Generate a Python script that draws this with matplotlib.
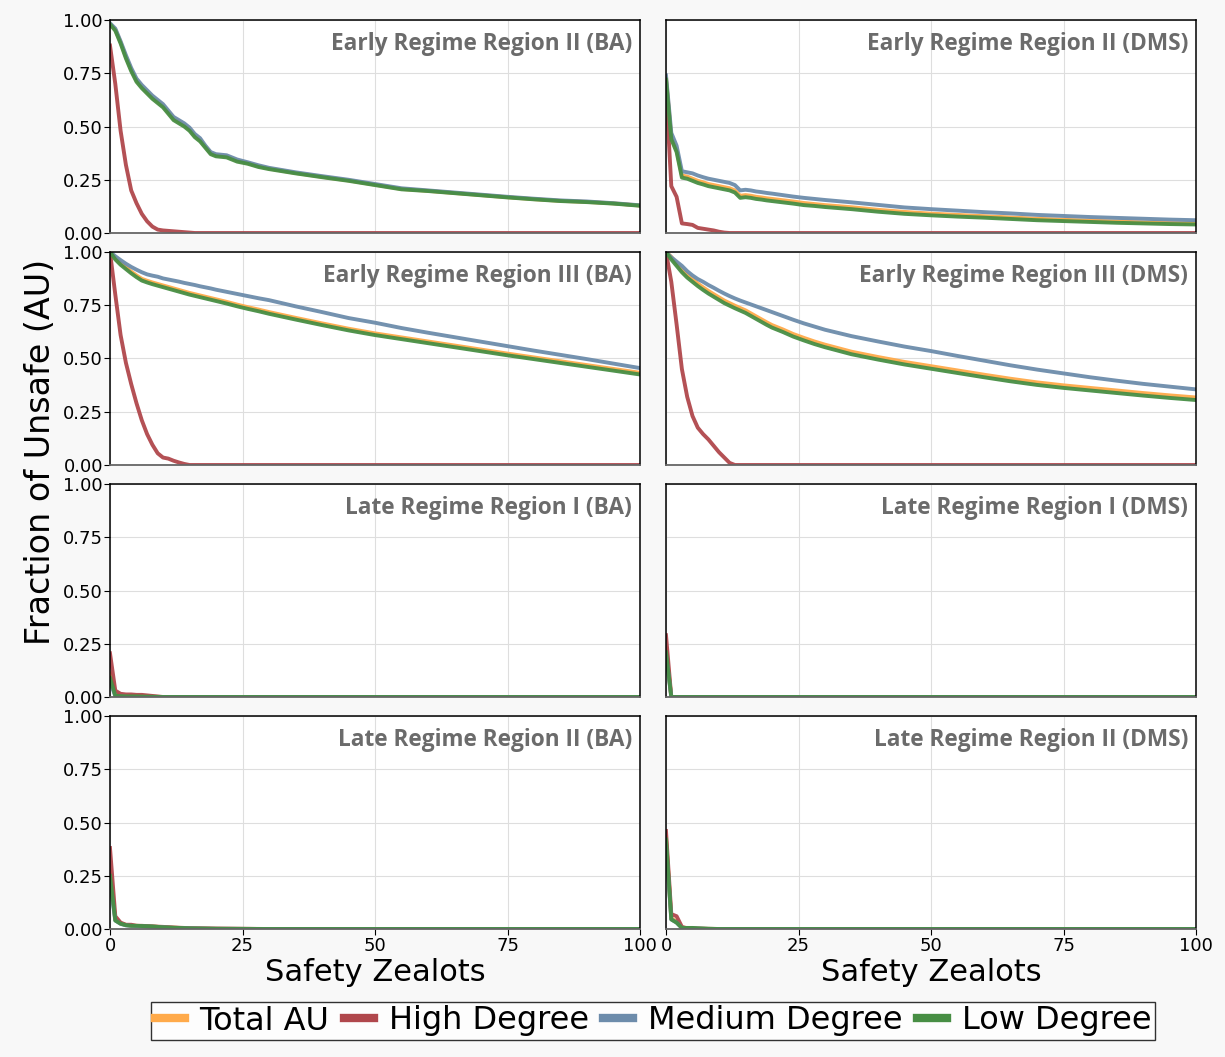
import matplotlib
matplotlib.use('Agg')
import matplotlib.pyplot as plt
from matplotlib.lines import Line2D

# common x grid (safety zealots) used for the early regime panels
X = [0, 1, 2, 3, 4, 5, 6, 7, 8, 9, 10, 11, 12, 13, 14, 15, 16, 17, 18, 19, 20,
     22, 24, 26, 28, 30, 35, 40, 45, 50, 55, 60, 65, 70, 75, 80, 85, 90, 95, 100]
# shorter grid for the late regime panels (all curves die out quickly)
XL = [0, 1, 2, 3, 4, 5, 6, 8, 10, 12, 15, 20, 30, 50, 100]

# Early Regime Region II (BA)
e2ba_total = [0.98, 0.955, 0.895, 0.827, 0.767, 0.717, 0.687, 0.661, 0.637, 0.617, 0.597, 0.567, 0.537,
              0.522, 0.507, 0.487, 0.457, 0.437, 0.405, 0.375, 0.365, 0.36, 0.34, 0.328, 0.314, 0.303,
              0.282, 0.264, 0.247, 0.227, 0.207, 0.198, 0.188, 0.178, 0.168, 0.159, 0.151, 0.146, 0.139, 0.129]
e2ba_high = [0.88, 0.70, 0.48, 0.32, 0.20, 0.14, 0.09, 0.055, 0.03, 0.016, 0.012, 0.01, 0.008, 0.006,
             0.004, 0.002, 0, 0, 0, 0, 0, 0, 0, 0, 0, 0, 0, 0, 0, 0, 0, 0, 0, 0, 0, 0, 0, 0, 0, 0]
e2ba_med = [0.985, 0.96, 0.90, 0.835, 0.775, 0.725, 0.695, 0.67, 0.645, 0.625, 0.605, 0.575, 0.545,
            0.53, 0.515, 0.495, 0.465, 0.445, 0.41, 0.38, 0.37, 0.365, 0.345, 0.332, 0.318, 0.306,
            0.285, 0.267, 0.25, 0.23, 0.21, 0.2, 0.19, 0.18, 0.17, 0.161, 0.153, 0.148, 0.14, 0.13]
e2ba_low = [0.98, 0.95, 0.89, 0.82, 0.76, 0.71, 0.68, 0.655, 0.63, 0.61, 0.59, 0.56, 0.53, 0.515, 0.50,
            0.48, 0.45, 0.43, 0.40, 0.37, 0.36, 0.355, 0.335, 0.325, 0.31, 0.30, 0.28, 0.262, 0.245,
            0.225, 0.205, 0.197, 0.187, 0.177, 0.167, 0.158, 0.150, 0.145, 0.138, 0.128]

# Early Regime Region II (DMS)
e2dms_total = [0.73, 0.45, 0.39, 0.27, 0.265, 0.255, 0.245, 0.238, 0.23, 0.225, 0.22, 0.215, 0.21, 0.20,
               0.175, 0.178, 0.175, 0.170, 0.167, 0.163, 0.160, 0.154, 0.148, 0.141, 0.136, 0.131, 0.121,
               0.109, 0.099, 0.091, 0.085, 0.079, 0.073, 0.067, 0.062, 0.058, 0.054, 0.050, 0.047, 0.045]
e2dms_high = [0.68, 0.22, 0.17, 0.045, 0.042, 0.038, 0.024, 0.02, 0.016, 0.012, 0.006, 0.002, 0, 0, 0, 0,
              0, 0, 0, 0, 0, 0, 0, 0, 0, 0, 0, 0, 0, 0, 0, 0, 0, 0, 0, 0, 0, 0, 0, 0]
e2dms_med = [0.74, 0.47, 0.41, 0.29, 0.285, 0.28, 0.27, 0.262, 0.255, 0.25, 0.245, 0.24, 0.235, 0.225,
             0.20, 0.203, 0.2, 0.195, 0.192, 0.188, 0.185, 0.178, 0.171, 0.165, 0.16, 0.155, 0.144,
             0.132, 0.12, 0.112, 0.105, 0.098, 0.092, 0.085, 0.08, 0.075, 0.071, 0.067, 0.063, 0.06]
e2dms_low = [0.72, 0.44, 0.38, 0.26, 0.255, 0.245, 0.235, 0.228, 0.22, 0.215, 0.21, 0.205, 0.20, 0.19,
             0.165, 0.168, 0.165, 0.160, 0.157, 0.153, 0.150, 0.144, 0.138, 0.131, 0.127, 0.122, 0.112,
             0.100, 0.090, 0.083, 0.077, 0.072, 0.066, 0.060, 0.056, 0.052, 0.048, 0.045, 0.042, 0.040]

# Early Regime Region III (BA)
e3ba_total = [1.0, 0.972, 0.948, 0.928, 0.908, 0.89, 0.874, 0.865, 0.857, 0.85, 0.843, 0.836, 0.829,
              0.822, 0.815, 0.808, 0.802, 0.796, 0.79, 0.784, 0.778, 0.766, 0.753, 0.741, 0.73, 0.718,
              0.691, 0.665, 0.64, 0.618, 0.599, 0.58, 0.561, 0.542, 0.523, 0.505, 0.487, 0.469, 0.451, 0.433]
e3ba_high = [1.0, 0.8, 0.61, 0.48, 0.38, 0.29, 0.21, 0.145, 0.095, 0.055, 0.035, 0.03, 0.02, 0.012, 0.005,
             0, 0, 0, 0, 0, 0, 0, 0, 0, 0, 0, 0, 0, 0, 0, 0, 0, 0, 0, 0, 0, 0, 0, 0, 0]
e3ba_med = [1.0, 0.98, 0.962, 0.945, 0.93, 0.917, 0.905, 0.895, 0.889, 0.884, 0.876, 0.871, 0.866, 0.861,
            0.855, 0.85, 0.845, 0.839, 0.834, 0.829, 0.823, 0.813, 0.803, 0.793, 0.783, 0.774, 0.745,
            0.718, 0.69, 0.668, 0.643, 0.621, 0.6, 0.579, 0.558, 0.537, 0.517, 0.497, 0.476, 0.455]
e3ba_low = [1.0, 0.965, 0.94, 0.92, 0.9, 0.882, 0.866, 0.857, 0.849, 0.842, 0.835, 0.828, 0.821, 0.814,
            0.807, 0.8, 0.794, 0.788, 0.782, 0.776, 0.77, 0.758, 0.745, 0.733, 0.722, 0.71, 0.683,
            0.657, 0.632, 0.61, 0.591, 0.572, 0.553, 0.534, 0.515, 0.497, 0.479, 0.461, 0.443, 0.425]

# Early Regime Region III (DMS)
e3dms_total = [1.0, 0.977, 0.947, 0.917, 0.892, 0.872, 0.852, 0.834, 0.817, 0.802, 0.787, 0.772, 0.76,
               0.748, 0.737, 0.726, 0.712, 0.698, 0.684, 0.67, 0.657, 0.637, 0.615, 0.597, 0.58, 0.565,
               0.532, 0.507, 0.484, 0.464, 0.444, 0.424, 0.405, 0.388, 0.374, 0.362, 0.35, 0.338, 0.327, 0.317]
e3dms_high = [1.0, 0.86, 0.66, 0.45, 0.32, 0.23, 0.175, 0.145, 0.12, 0.09, 0.06, 0.035, 0.01, 0, 0, 0, 0,
              0, 0, 0, 0, 0, 0, 0, 0, 0, 0, 0, 0, 0, 0, 0, 0, 0, 0, 0, 0, 0, 0, 0]
e3dms_med = [1.0, 0.975, 0.955, 0.935, 0.91, 0.89, 0.873, 0.86, 0.845, 0.832, 0.818, 0.805, 0.793, 0.782,
             0.772, 0.763, 0.754, 0.745, 0.736, 0.727, 0.718, 0.7, 0.682, 0.665, 0.65, 0.635, 0.605,
             0.58, 0.556, 0.535, 0.512, 0.49, 0.468, 0.448, 0.43, 0.412, 0.396, 0.381, 0.368, 0.355]
e3dms_low = [1.0, 0.965, 0.935, 0.905, 0.88, 0.86, 0.84, 0.822, 0.805, 0.79, 0.775, 0.76, 0.748, 0.736,
             0.725, 0.714, 0.7, 0.686, 0.672, 0.658, 0.645, 0.625, 0.603, 0.585, 0.568, 0.553, 0.52,
             0.495, 0.472, 0.452, 0.432, 0.412, 0.393, 0.376, 0.362, 0.35, 0.338, 0.326, 0.315, 0.305]

# Late Regime Region I (BA)
l1ba_total = [0.11, 0.01, 0.005, 0.004, 0.003, 0.003, 0.002, 0.001, 0, 0, 0, 0, 0, 0, 0]
l1ba_high = [0.205, 0.03, 0.015, 0.012, 0.012, 0.01, 0.01, 0.005, 0, 0, 0, 0, 0, 0, 0]
l1ba_med = [0.07, 0.005, 0.002, 0.001, 0, 0, 0, 0, 0, 0, 0, 0, 0, 0, 0]
l1ba_low = [0.09, 0.006, 0.004, 0.003, 0.003, 0.003, 0.002, 0.001, 0, 0, 0, 0, 0, 0, 0]

# Late Regime Region I (DMS)
l1dms_total = [0.23, 0, 0, 0, 0, 0, 0, 0, 0, 0, 0, 0, 0, 0, 0]
l1dms_high = [0.29, 0, 0, 0, 0, 0, 0, 0, 0, 0, 0, 0, 0, 0, 0]
l1dms_med = [0.2, 0, 0, 0, 0, 0, 0, 0, 0, 0, 0, 0, 0, 0, 0]
l1dms_low = [0.21, 0, 0, 0, 0, 0, 0, 0, 0, 0, 0, 0, 0, 0, 0]

# Late Regime Region II (BA)
l2ba_total = [0.27, 0.045, 0.027, 0.019, 0.016, 0.015, 0.014, 0.012, 0.008, 0.006, 0.003, 0.001, 0, 0, 0]
l2ba_high = [0.38, 0.06, 0.03, 0.02, 0.02, 0.015, 0.015, 0.012, 0.01, 0.007, 0.004, 0.002, 0, 0, 0]
l2ba_med = [0.22, 0.04, 0.024, 0.017, 0.015, 0.014, 0.013, 0.011, 0.008, 0.005, 0.003, 0.001, 0, 0, 0]
l2ba_low = [0.25, 0.04, 0.025, 0.018, 0.015, 0.015, 0.014, 0.012, 0.008, 0.006, 0.003, 0.001, 0, 0, 0]

# Late Regime Region II (DMS)
l2dms_total = [0.43, 0.05, 0.035, 0.006, 0.005, 0.005, 0.003, 0.001, 0, 0, 0, 0, 0, 0, 0]
l2dms_high = [0.46, 0.07, 0.06, 0.01, 0.003, 0.002, 0.001, 0, 0, 0, 0, 0, 0, 0, 0]
l2dms_med = [0.40, 0.045, 0.03, 0.005, 0.005, 0.004, 0.003, 0.001, 0, 0, 0, 0, 0, 0, 0]
l2dms_low = [0.42, 0.045, 0.03, 0.005, 0.005, 0.005, 0.003, 0.001, 0, 0, 0, 0, 0, 0, 0]

titles = ['Early Regime Region II (BA)', 'Early Regime Region II (DMS)',
          'Early Regime Region III (BA)', 'Early Regime Region III (DMS)',
          'Late Regime Region I (BA)', 'Late Regime Region I (DMS)',
          'Late Regime Region II (BA)', 'Late Regime Region II (DMS)']
labels = ['Total AU', 'High Degree', 'Medium Degree', 'Low Degree']
colors = ['#FFAA4A', '#B0474C', '#6D8CAB', '#478E44']

panels = [
    (X, [e2ba_total, e2ba_high, e2ba_med, e2ba_low]),
    (X, [e2dms_total, e2dms_high, e2dms_med, e2dms_low]),
    (X, [e3ba_total, e3ba_high, e3ba_med, e3ba_low]),
    (X, [e3dms_total, e3dms_high, e3dms_med, e3dms_low]),
    (XL, [l1ba_total, l1ba_high, l1ba_med, l1ba_low]),
    (XL, [l1dms_total, l1dms_high, l1dms_med, l1dms_low]),
    (XL, [l2ba_total, l2ba_high, l2ba_med, l2ba_low]),
    (XL, [l2dms_total, l2dms_high, l2dms_med, l2dms_low]),
]

W, H = 1225, 1057
fig = plt.figure(figsize=(W / 100, H / 100), dpi=100, facecolor='#f8f8f8')

col_left = [110, 666]
col_w = 530
row_top = [20, 252, 484, 716]
row_h = 213

for i, (xs, series) in enumerate(panels):
    r, c = divmod(i, 2)
    ax = fig.add_axes([col_left[c] / W, 1 - (row_top[r] + row_h) / H, col_w / W, row_h / H])
    ax.set_facecolor('white')
    for ys, col in zip(series, colors):
        ax.plot(xs, ys, color=col, lw=2.8, alpha=0.95, solid_joinstyle='round')
    ax.set_xlim(0, 100)
    ax.set_ylim(0, 1)
    ax.set_xticks([0, 25, 50, 75, 100])
    ax.set_yticks([0, 0.25, 0.5, 0.75, 1.0])
    ax.grid(True, color='#dedede', lw=0.8)
    ax.set_axisbelow(True)
    for s in ['top', 'left', 'right']:
        ax.spines[s].set_color('black')
        ax.spines[s].set_linewidth(1.1)
    ax.spines['bottom'].set_color('#666666')
    ax.spines['bottom'].set_linewidth(1.3)
    if c == 0:
        ax.set_yticklabels(['0.00', '0.25', '0.50', '0.75', '1.00'], fontsize=13)
        ax.tick_params(axis='y', length=4, width=0.8, pad=1)
    else:
        ax.tick_params(axis='y', length=0, labelleft=False)
    if r == 3:
        ax.tick_params(axis='x', labelsize=13, length=4, width=0.8, pad=2)
        ax.set_xlabel('Safety Zealots', fontsize=22, labelpad=2)
    else:
        ax.tick_params(axis='x', length=0, labelbottom=False)
    ax.text(0.985, 0.945, titles[i], transform=ax.transAxes, ha='right', va='top',
            fontsize=16.3, fontweight='bold', color='#6b6b6b', family='Open Sans')

fig.text(40 / W, 1 - 452 / H, 'Fraction of Unsafe (AU)', rotation=90, ha='center', va='center',
         fontsize=24)

handles = [Line2D([], [], color=col, lw=6) for col in colors]
leg = fig.legend(handles, labels, loc='center', bbox_to_anchor=(653 / W, 1 - 1021 / H), ncol=4,
                 fontsize=23, frameon=True, fancybox=False, edgecolor='black', handlelength=0.95,
                 handletextpad=0.45, columnspacing=0.45, borderpad=0.12, borderaxespad=0)
leg.get_frame().set_linewidth(1.0)

fig.savefig('out.png', dpi=100, facecolor=fig.get_facecolor())
